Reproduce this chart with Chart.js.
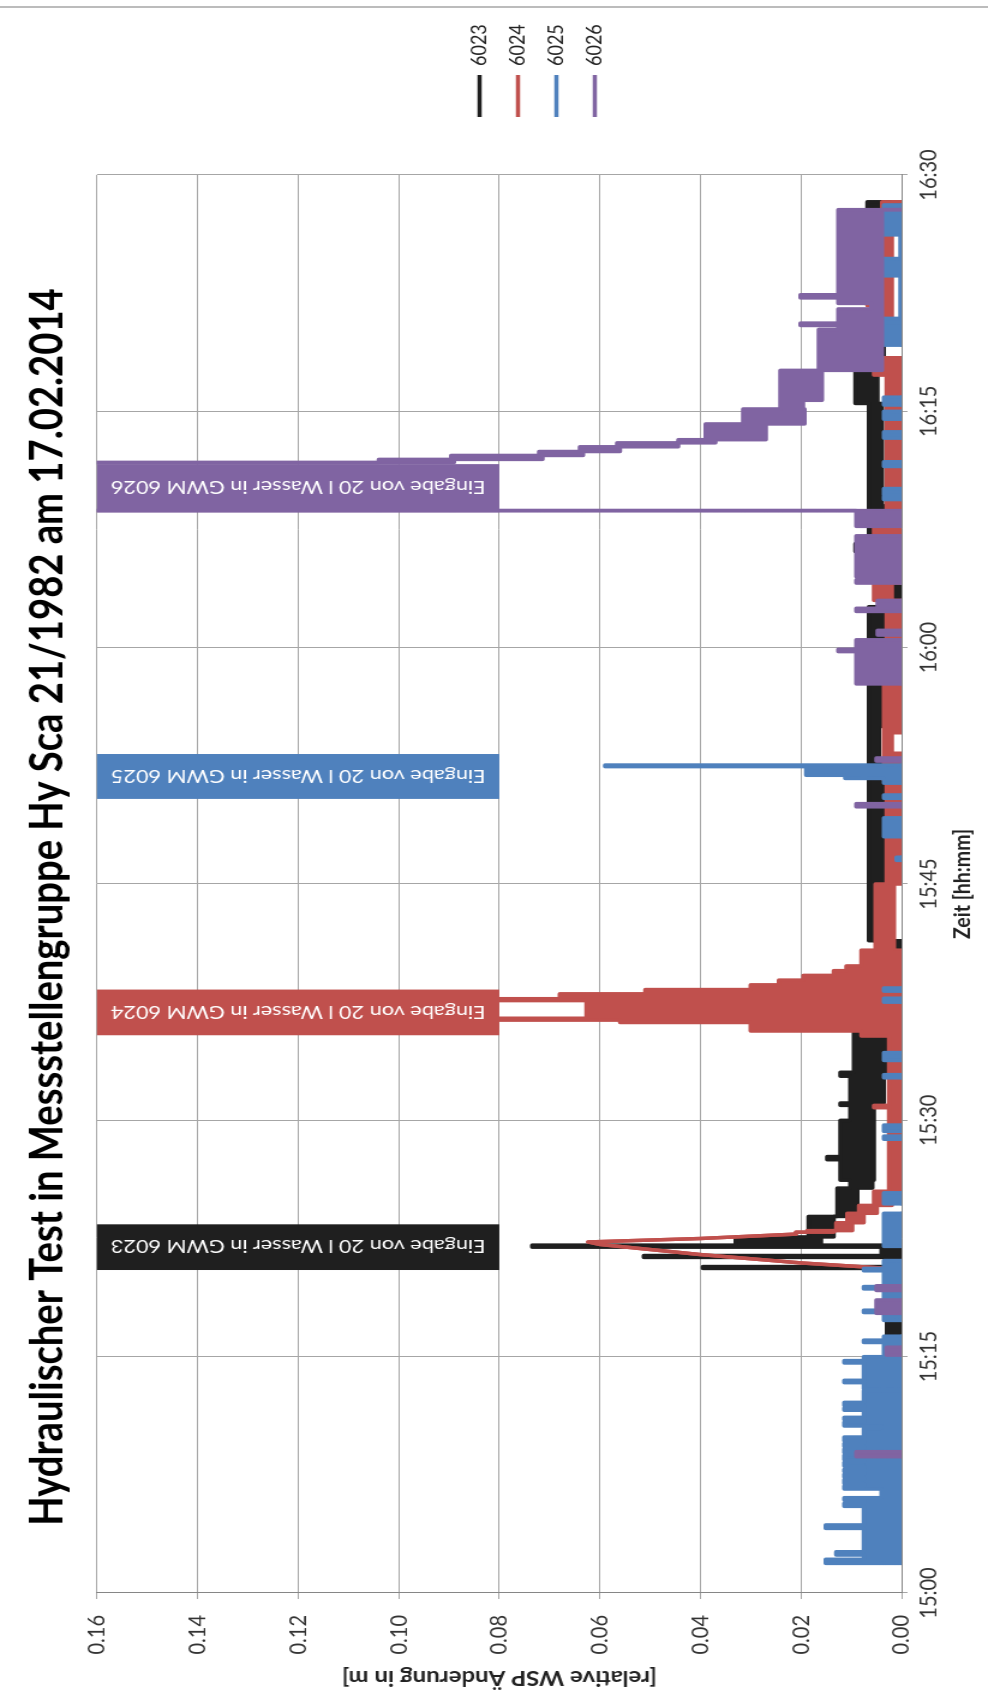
<!DOCTYPE html>
<html lang="de">
<head>
<meta charset="utf-8">
<title>Hydraulischer Test in Messstellengruppe Hy Sca 21/1982</title>
<script src="https://cdn.jsdelivr.net/npm/chart.js@4.4.1/dist/chart.umd.min.js"></script>
<style>
  html, body { margin: 0; padding: 0; background: #fff; }
  body { width: 988px; height: 1703px; overflow: hidden; position: relative; }
  /* chart is laid out landscape, then turned onto the portrait sheet */
  #sheet { position: absolute; left: 0; top: 0; width: 1703px; height: 823px;
           transform-origin: 0 0; transform: translate(0, 1703px) rotate(-90deg) scale(1, 1.2005); }
  #sheet canvas { display: block; }
</style>
</head>
<body>
<div id="sheet"><canvas id="wsp"></canvas></div>
<script>
/* =========================================================
   Hydraulischer Test Hy Sca 21/1982 — Wasserstand 4 GWM
   ========================================================= */

const OFF = -0.01;   // below the 0 line = no reading shown

const SERIES = ['6023', '6024', '6025', '6026'];
const COLORS = ['#1f1f1f', '#c0504d', '#4f81bd', '#8064a2'];
const TIME_LABELS = ['15:00', '15:15', '15:30', '15:45', '16:00', '16:15', '16:30'];

// rows: [minutes after 15:00, low, high, ramp]; a row holds until the next one
// unless ramp is set, then the trace runs straight to the next row
const S6023 = [
  [0, OFF, OFF],
  [12.85, 0, 0.0027], [12.95, OFF, OFF],
  [15.6, 0, 0.0029], [15.85, OFF, OFF],
  [16.3, 0, 0.0029], [17.3, OFF, OFF],
  [18.8, 0, 0.003], [19.1, OFF, OFF],
  [20.6, 0, 0.0395], [20.72, 0, 0.003],
  [21.3, 0, 0.0513], [21.42, 0, 0.004],
  [21.95, 0, 0.0735], [22.08, 0.016, 0.033],
  [22.6, 0.0135, 0.0185],
  [23.9, 0.0088, 0.0128],
  [25.7, 0.0058, 0.0102],
  [26.2, 0.0055, 0.0122],
  [27.5, 0.0055, 0.0148], [27.7, 0.0055, 0.0122],
  [30.0, 0.0055, 0.0102],
  [30.95, 0.0055, 0.0122], [31.1, 0.0035, 0.0102],
  [32.8, 0.0035, 0.0122], [33.05, 0.0029, 0.0095],
  [35.7, 0.003, 0.007],
  [38.6, 0.0002, 0.0068],
  [39.5, 0.003, 0.0048],
  [40.6, 0.0002, 0.0048],
  [41.4, 0.0055, 0.0065],
  [42.1, 0.0029, 0.0065],
  [52.9, 0.0045, 0.0065],
  [55.0, 0.0029, 0.0065],
  [58.5, 0.0029, 0.0088], [58.7, 0.0029, 0.0065],
  [62.6, 0.0001, 0.0029],
  [64.3, 0.0029, 0.0065],
  [66.1, 0.0029, 0.0092], [66.6, 0.0029, 0.0065],
  [69.0, 0.0039, 0.0065],
  [75.5, 0.0048, 0.0092],
  [77.8, 0.0035, 0.0065],
  [80.2, 0.0062, 0.0102], [80.6, 0.0035, 0.0055],
  [87.8, 0.0039, 0.0068],
  [88.3, OFF, OFF]
];

const S6024 = [
  [0, OFF, OFF],
  [3.25, 0, 0.0028], [3.4, OFF, OFF],
  [20.55, 0, 0, 1],
  [20.95, 0.02, 0.02, 1],
  [21.48, 0.04, 0.04, 1],
  [22.12, 0.06, 0.06, 1],
  [22.28, 0.0623, 0.0623, 1],
  [22.5, 0.04, 0.04, 1],
  [22.78, 0.021, 0.021],
  [22.9, 0.0135, 0.0188],
  [23.0, 0.0098, 0.013],
  [23.5, 0.0075, 0.0108],
  [24.1, 0.0049, 0.0085],
  [24.6, 0.0019, 0.0055],
  [25.5, 0, 0.0025],
  [30.8, 0, 0.0055], [30.95, 0, 0.0025],
  [35.35, 0, 0.008],
  [35.67, 0, 0.030],
  [36.21, 0, 0.056],
  [36.36, 0, 0.1], [36.48, 0, 0.0627],
  [37.6, 0, 0.1], [37.72, 0, 0.068],
  [38.03, 0, 0.051],
  [38.3, 0, 0.030],
  [38.6, 0, 0.0244],
  [38.9, 0, 0.0195],
  [39.2, 0, 0.0135],
  [39.5, 0, 0.011],
  [39.8, 0, 0.008],
  [40.8, 0.0015, 0.0052],
  [45.0, 0, 0.003],
  [51.6, 0, 0.0035],
  [53.3, 0.0019, 0.0035],
  [54.6, 0, 0.0035],
  [58.6, 0, 0.003],
  [63.0, 0.0019, 0.0055],
  [64.1, 0, 0.003],
  [67.1, 0, 0.0055],
  [67.7, 0, 0.003],
  [77.3, 0.0001, 0.0055],
  [78.4, 0.0045, 0.0079],
  [79.4, 0.0019, 0.004],
  [81.7, 0.0019, 0.0068],
  [82.5, 0.0019, 0.004],
  [84.8, 0.0019, 0.006], [85.0, 0.0019, 0.004],
  [85.8, 0.0019, 0.006], [86.0, 0.0019, 0.0039],
  [88.3, OFF, OFF]
];

const S6025 = [
  [0, OFF, OFF],
  [1.88, 0, 0.0151], [2.14, 0, 0.0075], [2.41, 0, 0.013], [2.62, 0, 0.0075],
  [4.1, 0, 0.0151], [4.32, 0, 0.0075],
  [5.5, 0, 0.0114], [5.7, 0, 0.0075], [5.9, 0, 0.0114], [6.05, 0, 0.004],
  [6.6, 0, 0.0114], [6.8, 0, 0.0075], [6.95, 0, 0.0114], [7.2, 0, 0.0075],
  [7.35, 0, 0.0114], [7.55, 0, 0.0075], [7.7, 0, 0.0114], [7.85, 0, 0.0075],
  [8.05, 0, 0.0114], [8.3, 0, 0.0075], [8.45, 0, 0.0114], [8.75, 0, 0.0075],
  [8.9, 0, 0.0114], [9.15, 0, 0.0075], [9.3, 0, 0.0114], [9.5, 0, 0.0075],
  [9.65, 0, 0.0114], [9.9, 0, 0.0075], [10.45, 0, 0.004],
  [10.6, 0, 0.0114], [10.85, 0, 0.0075], [11.0, 0, 0.0114], [11.15, 0, 0.0075],
  [11.6, 0, 0.0114], [11.75, 0, 0.0075], [11.9, 0, 0.0114], [12.1, 0, 0.0075],
  [12.85, OFF, OFF], [12.95, 0, 0.0075],
  [13.35, 0, 0.0114], [13.5, 0, 0.0075],
  [14.6, 0, 0.0114], [14.75, 0, 0.0075],
  [15.0, 0, 0.0035], [15.9, 0, 0.0075], [16.05, 0, 0.0035],
  [16.3, OFF, OFF], [17.3, 0, 0.0035],
  [17.8, 0, 0.0075], [17.95, 0, 0.0035],
  [19.3, 0, 0.0075], [19.45, 0, 0.0035],
  [20.45, 0, 0.0075], [20.6, 0, 0.0035],
  [21.1, OFF, OFF], [22.0, 0, 0.0035], [24.1, OFF, OFF],
  [24.7, 0, 0.0035], [25.4, OFF, OFF],
  [28.8, 0, 0.0035], [29.0, OFF, OFF], [29.3, 0, 0.0035], [29.7, OFF, OFF],
  [32.7, 0, 0.0035], [32.9, OFF, OFF], [33.8, 0, 0.0035], [34.3, OFF, OFF],
  [37.5, 0, 0.0035], [37.75, OFF, OFF], [38.2, 0, 0.0035], [38.4, OFF, OFF],
  [46.5, 0, 0.001], [46.7, OFF, OFF],
  [48.0, 0, 0.0035], [49.2, OFF, OFF],
  [50.44, 0, 0.0035], [50.65, OFF, OFF],
  [51.4, 0, 0.0035], [51.7, 0, 0.0112], [51.9, 0, 0.019],
  [52.45, 0, 0.059], [52.55, OFF, OFF],
  [69.4, 0, 0.0035], [69.6, OFF, OFF], [69.7, 0, 0.0035], [70.1, OFF, OFF],
  [71.5, 0, 0.0035], [71.8, OFF, OFF], [73.3, 0, 0.0035], [73.7, OFF, OFF],
  [74.5, 0, 0.0035], [75.0, OFF, OFF], [75.4, 0, 0.0035], [75.9, OFF, OFF],
  [79.2, 0, 0.0035], [79.4, OFF, OFF], [79.6, 0, 0.0035], [79.8, OFF, OFF],
  [80.0, 0, 0.0035], [80.2, OFF, OFF],
  [80.4, 0, 0.0035], [80.9, 0.0002, 0.0002],
  [83.6, 0, 0.0035], [84.7, 0.0002, 0.0002],
  [86.2, 0, 0.0035], [88.1, OFF, OFF]
];

const S6026 = [
  [0, OFF, OFF],
  [8.65, 0, 0.009], [8.97, OFF, OFF],
  [15.1, 0, 0.003], [15.6, OFF, OFF],
  [17.75, 0, 0.005], [18.6, OFF, OFF],
  [19.2, 0, 0.005], [19.5, OFF, OFF],
  [49.9, 0, 0.009], [50.1, OFF, OFF],
  [52.8, 0, 0.005], [53.0, OFF, OFF],
  [57.7, 0, 0.009], [59.75, 0, 0.0126], [59.9, 0, 0.009], [60.5, OFF, OFF],
  [60.8, 0, 0.0048], [61.1, OFF, OFF],
  [62.3, 0, 0.009], [62.5, 0, 0.0048], [63.0, OFF, OFF],
  [64.1, 0, 0.009], [64.3, OFF, OFF],
  [64.5, 0, 0.009], [67.1, OFF, OFF],
  [67.7, 0, 0.009], [68.7, 0.2, 0.2],
  [71.75, 0.089, 0.104],
  [71.95, 0.0714, 0.0896],
  [72.2, 0.0633, 0.0721],
  [72.45, 0.056, 0.064],
  [72.75, 0.0444, 0.0566],
  [73.0, 0.037, 0.0444],
  [73.2, 0.027, 0.039],
  [74.2, 0.0193, 0.0315],
  [75.15, 0.0196, 0.0241],
  [75.7, 0.0158, 0.0241],
  [77.6, 0.0039, 0.0165],
  [80.2, 0.0039, 0.0126],
  [80.45, 0.0039, 0.0201], [80.6, 0.0039, 0.0126],
  [81.5, 0.0039, 0.006], [81.85, 0.0039, 0.0126],
  [82.2, 0.0039, 0.0201], [82.4, 0.0039, 0.0126],
  [87.8, OFF, OFF]
];

// injection notes, minutes after 15:00
const NOTE_FROM = [20.5, 35.4, 50.4, 68.6];
const NOTE_TO   = [23.4, 38.3, 53.25, 71.65];
const NOTE_TEXT = [
  'Eingabe von 20 l Wasser in GWM 6023',
  'Eingabe von 20 l Wasser in GWM 6024',
  'Eingabe von 20 l Wasser in GWM 6025',
  'Eingabe von 20 l Wasser in GWM 6026'
];
const NOTE_LOW = 0.08, NOTE_HIGH = 0.16;

const FONT = 'Lato';
Chart.defaults.font.family = FONT;

/* rows -> step traces for the lower and upper edge of each logger band */
function toPoints(rows) {
  const lo = [], hi = [];
  rows.forEach(([t, l, h, ramp], i) => {
    lo.push({ x: t, y: l });
    hi.push({ x: t, y: h });
    const next = rows[i + 1];
    if (next && !ramp) { lo.push({ x: next[0], y: l }); hi.push({ x: next[0], y: h }); }
  });
  return { lo, hi };
}

const ROWS = [S6023, S6024, S6025, S6026];
const datasets = [];
for (let i = SERIES.length - 1; i >= 0; i--) {       // 6026 ends up on top
  const { lo, hi } = toPoints(ROWS[i]);
  const style = {
    borderColor: COLORS[i], backgroundColor: COLORS[i], borderWidth: 3.5,
    borderCapStyle: 'round', borderJoinStyle: 'round', pointRadius: 0, tension: 0
  };
  datasets.push(Object.assign({ label: SERIES[i], data: hi, fill: '+1' }, style));
  datasets.push(Object.assign({ data: lo, fill: false }, style));
}

/* coloured note boxes with upright text */
const notes = {
  id: 'notes',
  afterDatasetsDraw(chart) {
    const { ctx, scales: { x, y } } = chart;
    const top = y.getPixelForValue(NOTE_HIGH), bottom = y.getPixelForValue(NOTE_LOW);
    ctx.save();
    NOTE_FROM.forEach((t0, i) => {
      const x0 = x.getPixelForValue(t0), x1 = x.getPixelForValue(NOTE_TO[i]);
      ctx.fillStyle = COLORS[i];
      ctx.fillRect(x0, top, x1 - x0, bottom - top);
      ctx.save();
      ctx.translate((x0 + x1) / 2, (top + bottom) / 2);
      ctx.rotate(-Math.PI / 2);
      ctx.fillStyle = '#fff';
      ctx.font = '18px ' + FONT;
      ctx.textAlign = 'center';
      ctx.textBaseline = 'middle';
      ctx.fillText(NOTE_TEXT[i], 0, 1);
      ctx.restore();
    });
    ctx.restore();
  },
  afterDraw(chart) {
    // thin frame line along the outer edge of the sheet
    const { ctx, width, height } = chart;
    ctx.save();
    ctx.strokeStyle = '#a6a6a6';
    ctx.lineWidth = 1.5;
    ctx.beginPath();
    ctx.moveTo(width - 7, 0);
    ctx.lineTo(width - 7, height);
    ctx.stroke();
    ctx.restore();
  }
};

/* legend gets a gap to the plot, title sits a little left of centre */
const nudge = {
  id: 'nudge',
  beforeInit(chart) {
    const fit = chart.legend.fit;
    chart.legend.fit = function () { fit.call(this); this.width = 175; };
  },
  afterLayout(chart) {
    const lg = chart.legend;
    lg.left += 44; lg.right += 44;
    lg.top += 36; lg.bottom += 36;
    chart.titleBlock.left -= 46;
  }
};

new Chart(document.getElementById('wsp'), {
  type: 'line',
  data: { datasets },
  options: {
    responsive: true,
    maintainAspectRatio: false,
    animation: false,
    events: [],
    layout: { padding: 0 },
    scales: {
      x: {
        type: 'linear', min: 0, max: 90,
        grid: { color: '#a6a6a6', tickColor: '#a6a6a6', tickLength: 5 },
        border: { color: '#868686' },
        ticks: {
          stepSize: 15, autoSkip: false, maxRotation: 0, padding: 6, color: '#333',
          font: { size: 20 }, callback: v => TIME_LABELS[Math.round(v / 15)]
        },
        title: {
          display: true, text: 'Zeit [hh:mm]', color: '#222',
          font: { size: 19.5, weight: 'bold' }, padding: { top: 0, bottom: 10 }
        },
        afterFit: s => { s.height = 72; }
      },
      y: {
        min: 0, max: 0.16,
        grid: { color: '#a6a6a6', tickColor: '#a6a6a6', tickLength: 6 },
        border: { color: '#868686' },
        ticks: { stepSize: 0.02, padding: 16, color: '#333', font: { size: 20 }, callback: v => v.toFixed(2) },
        title: {
          display: true, text: '[relative WSP Änderung in m]', color: '#222',
          font: { size: 20, weight: 'bold' }, padding: { top: 14, bottom: 0 }
        },
        afterFit: s => { s.width = 110; }
      }
    },
    plugins: {
      title: {
        display: true, fullSize: false, color: '#000',
        text: 'Hydraulischer Test in Messstellengruppe Hy Sca 21/1982 am 17.02.2014',
        font: { size: 38.2, weight: 'bold' }, padding: { top: 17, bottom: 18 }
      },
      legend: {
        position: 'right', reverse: true,
        labels: {
          usePointStyle: true, pointStyle: 'line', pointStyleWidth: 42, padding: 14,
          color: '#222', font: { size: 18 }, filter: item => !!item.text
        }
      },
      tooltip: { enabled: false }
    }
  },
  plugins: [nudge, notes]
});
</script>
</body>
</html>
